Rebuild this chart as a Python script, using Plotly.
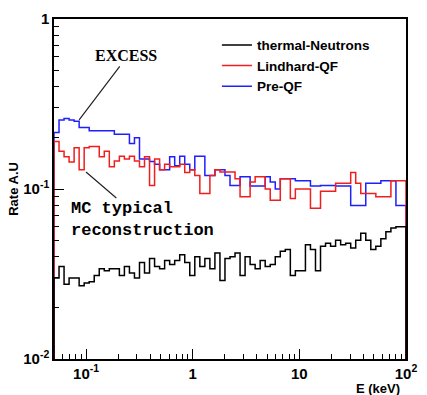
import numpy as np
import plotly.graph_objects as go

# ---- data -------------------------------------------------------------
e_min, e_max, n_bins = 0.05, 100.0, 70
bin_edges = np.logspace(np.log10(e_min), np.log10(e_max), n_bins + 1)

thermal_neutrons = [
    0.030, 0.035, 0.0275, 0.030, 0.030, 0.027, 0.028, 0.0285, 0.031, 0.034,
    0.033, 0.034, 0.034, 0.031, 0.035, 0.032, 0.030, 0.037, 0.032, 0.039,
    0.035, 0.034, 0.038, 0.036, 0.038, 0.041, 0.037, 0.031, 0.040, 0.035,
    0.039, 0.034, 0.042, 0.029, 0.039, 0.040, 0.042, 0.031, 0.040, 0.036,
    0.034, 0.038, 0.035, 0.036, 0.040, 0.043, 0.044, 0.031, 0.033, 0.033,
    0.047, 0.044, 0.033, 0.046, 0.048, 0.046, 0.050, 0.047, 0.048, 0.045,
    0.050, 0.055, 0.050, 0.044, 0.046, 0.051, 0.056, 0.059, 0.060, 0.060,
]
lindhard_qf = [
    0.190, 0.167, 0.155, 0.144, 0.175, 0.130, 0.175, 0.178, 0.178, 0.155,
    0.167, 0.135, 0.146, 0.156, 0.150, 0.156, 0.146, 0.135, 0.155, 0.105,
    0.150, 0.130, 0.140, 0.135, 0.135, 0.140, 0.125, 0.130, 0.120, 0.094,
    0.094, 0.120, 0.130, 0.126, 0.126, 0.126, 0.115, 0.090, 0.090, 0.110,
    0.118, 0.118, 0.100, 0.086, 0.086, 0.115, 0.115, 0.088, 0.100, 0.100,
    0.100, 0.077, 0.077, 0.097, 0.097, 0.097, 0.108, 0.108, 0.108, 0.125,
    0.108, 0.094, 0.094, 0.094, 0.090, 0.090, 0.090, 0.112, 0.112, 0.112,
]
pre_qf = [
    0.215, 0.255, 0.260, 0.255, 0.250, 0.230, 0.230, 0.220, 0.220, 0.220,
    0.220, 0.220, 0.210, 0.210, 0.210, 0.185, 0.200, 0.150, 0.150, 0.145,
    0.140, 0.130, 0.130, 0.155, 0.137, 0.156, 0.140, 0.130, 0.156, 0.156,
    0.120, 0.120, 0.130, 0.130, 0.120, 0.105, 0.105, 0.118, 0.118, 0.104,
    0.104, 0.104, 0.118, 0.110, 0.100, 0.115, 0.115, 0.115, 0.112, 0.112,
    0.112, 0.104, 0.104, 0.105, 0.105, 0.105, 0.104, 0.104, 0.104, 0.080,
    0.080, 0.080, 0.108, 0.108, 0.108, 0.112, 0.112, 0.112, 0.080, 0.080,
]

x_ticks = [0.1, 1, 10, 100]
x_ticktext = ["10<sup>-1</sup>", "1", "10", "10<sup>2</sup>"]
y_ticks = [0.01, 0.1, 1]
y_ticktext = ["10<sup>-2</sup>", "10<sup>-1</sup>", "1"]
y_floor = 0.01

series = [
    ("Pre-QF", pre_qf, "#1f1fff"),
    ("Lindhard-QF", lindhard_qf, "#f01e1e"),
    ("thermal-Neutrons", thermal_neutrons, "#000000"),
]


def step_xy(vals):
    xs = [bin_edges[0]] + list(bin_edges) + [bin_edges[-1]]
    ys = [y_floor] + list(vals) + [vals[-1], y_floor]
    return xs, ys


fig = go.Figure()
for name, vals, col in series:
    xs, ys = step_xy(vals)
    fig.add_trace(go.Scatter(x=xs, y=ys, mode="lines", line_shape="hv",
                             name=name, line=dict(color=col, width=1.5)))

W, H = 427, 395
ml, mr, mt, mb = 54, 10, 12, 36
pw, ph = W - ml - mr, H - mt - mb


def px(xp):
    return (xp - ml) / pw


def py(yp):
    return (H - mb - yp) / ph


bold = dict(family="Liberation Sans", size=15, color="black", weight="bold")

minor_x = [m * 10 ** d for d in range(-2, 2) for m in range(2, 10)]
minor_y = [m * 10 ** d for d in range(-2, 0) for m in range(2, 10)]

fig.update_layout(
    width=W, height=H,
    margin=dict(l=ml, r=mr, t=mt, b=mb),
    paper_bgcolor="white", plot_bgcolor="white",
    showlegend=True,
    legend=dict(x=px(222), y=py(23), xanchor="left", yanchor="top",
                traceorder="reversed", bgcolor="rgba(0,0,0,0)",
                font=dict(family="Liberation Sans", size=13.5, color="black", weight="bold"),
                itemwidth=30, tracegroupgap=0),
    xaxis=dict(type="log", range=[np.log10(e_min), np.log10(e_max)],
               showgrid=False, zeroline=False,
               showline=True, linecolor="black", linewidth=1.5, mirror=True,
               ticks="inside", ticklen=10, tickcolor="black", tickwidth=1,
               tickmode="array", tickvals=x_ticks, ticktext=x_ticktext,
               tickfont=bold,
               minor=dict(ticks="inside", ticklen=5, tickcolor="black",
                          tickmode="array", tickvals=minor_x, showgrid=False)),
    yaxis=dict(type="log", range=[-2, 0],
               showgrid=False, zeroline=False,
               showline=True, linecolor="black", linewidth=1.5, mirror=True,
               ticks="inside", ticklen=10, tickcolor="black", tickwidth=1,
               tickmode="array", tickvals=y_ticks, ticktext=y_ticktext,
               tickfont=bold,
               minor=dict(ticks="inside", ticklen=5, tickcolor="black",
                          tickmode="array", tickvals=minor_y, showgrid=False)),
)

# axis titles
fig.add_annotation(text="Rate A.U", xref="paper", yref="paper", x=px(12), y=py(185),
                   xanchor="center", yanchor="middle",
                   textangle=-90, showarrow=False,
                   font=dict(family="Liberation Sans", size=13, color="black", weight="bold"))
fig.add_annotation(text="E (keV)", xref="paper", yref="paper", x=px(388), y=py(389),
                   xanchor="center", yanchor="middle", showarrow=False,
                   font=dict(family="Liberation Sans", size=13, color="black", weight="bold"))

# EXCESS label and its pointer line
fig.add_annotation(text="EXCESS", xref="paper", yref="paper", x=px(128), y=py(49),
                   xanchor="center", yanchor="middle", showarrow=False,
                   font=dict(family="Liberation Serif", size=16, color="black", weight="bold"))
fig.add_annotation(text="", x=np.log10(0.086), y=np.log10(0.255), xref="x", yref="y",
                   ax=41, ay=-54, showarrow=True, arrowhead=0, arrowwidth=1.2,
                   arrowcolor="#222", font=dict(size=1), borderpad=0)

# MC label with pointer
fig.add_annotation(text="MC typical<br>reconstruction", x=np.log10(0.0998), y=np.log10(0.126),
                   xref="x", yref="y", ax=56, ay=48, align="left",
                   showarrow=True, arrowhead=0, arrowwidth=1.2, arrowcolor="#222",
                   font=dict(family="Liberation Mono", size=17, color="black", weight="bold"))

fig.write_html("out.html")
